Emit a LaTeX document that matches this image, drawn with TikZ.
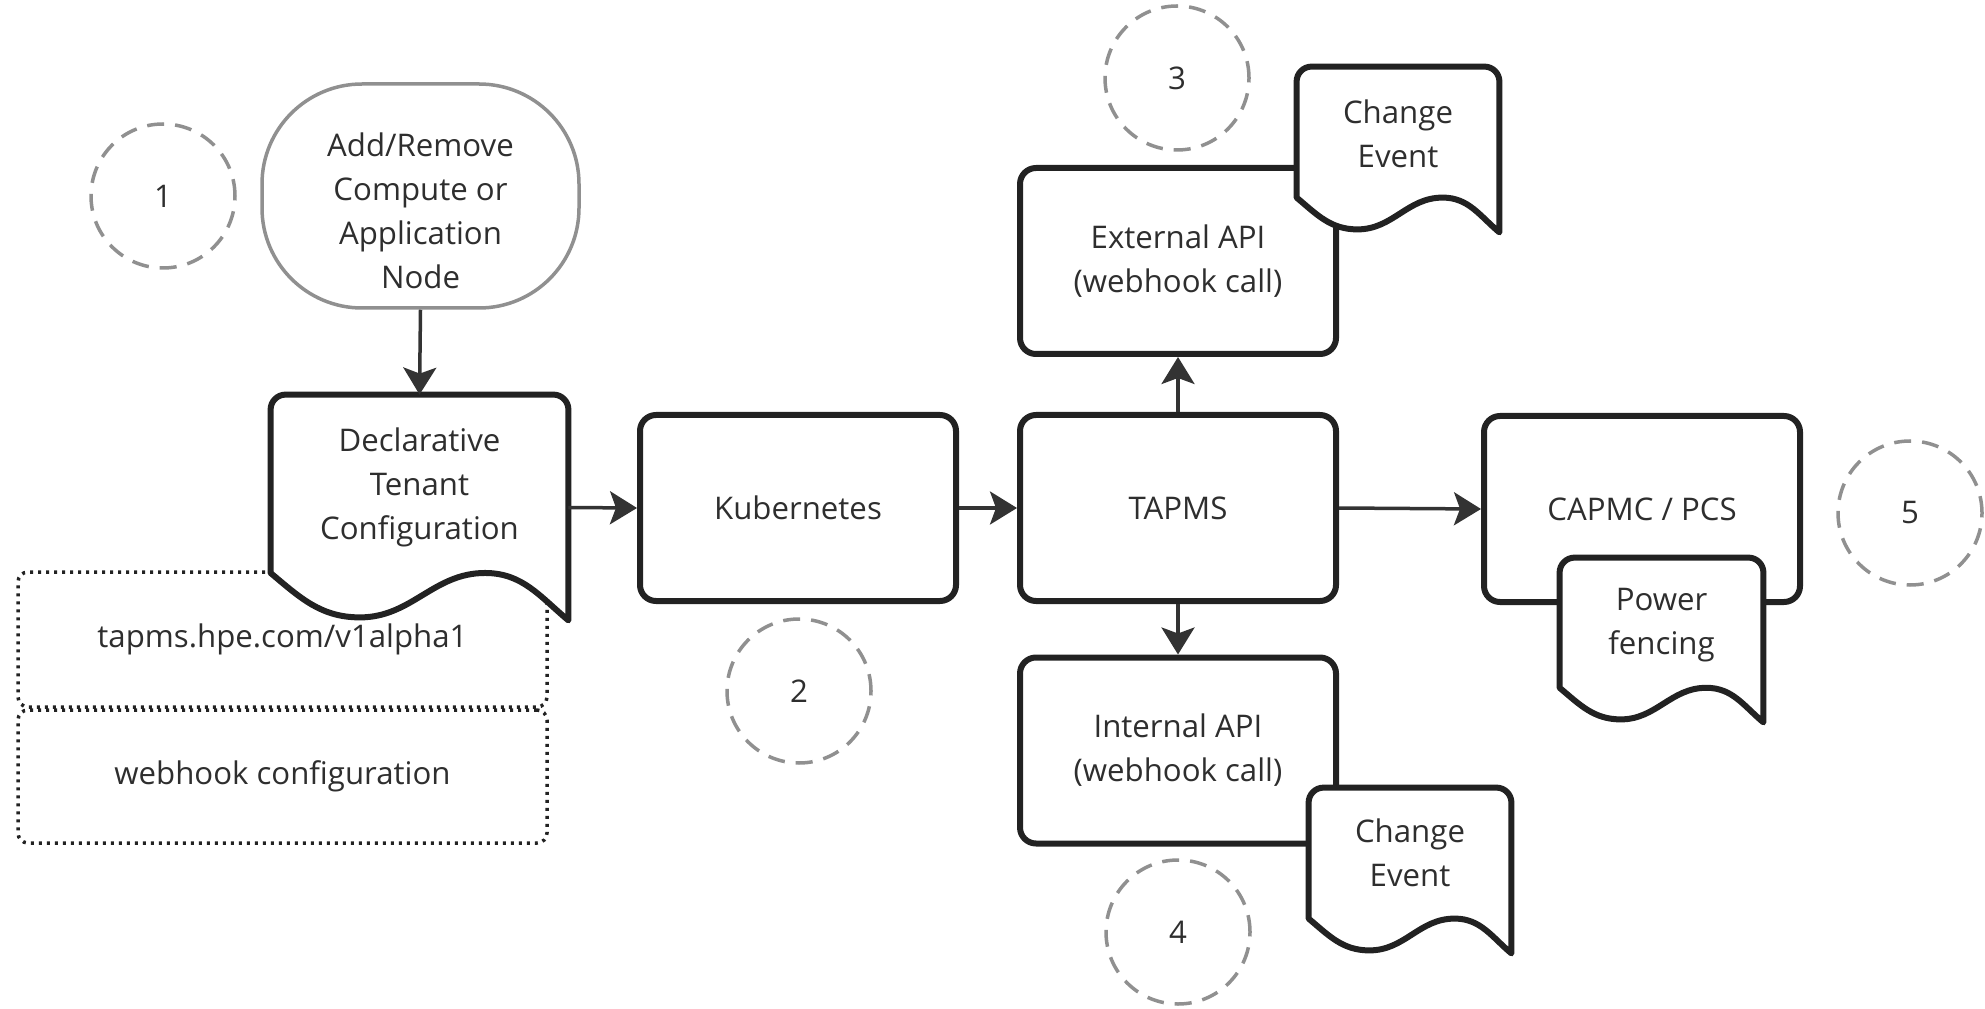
\documentclass[tikz,border=0pt]{standalone}
\usepackage{fontspec}
\setmainfont{Open Sans}
\usepackage{tikz}
\usetikzlibrary{arrows.meta,calc}

\definecolor{boxline}{HTML}{222222}
\definecolor{arrowline}{HTML}{333333}
\definecolor{stepgray}{HTML}{909090}
\definecolor{textgray}{HTML}{2E2E2E}

% document shape with a wavy bottom, drawn on a frame node
\newcommand{\wavedoc}[1]{%
  \coordinate (#1 lb) at ($(#1.north west)!0.79!(#1.south west)$);
  \coordinate (#1 dip) at ($(#1.south west)!0.3!(#1.south east)$);
  \coordinate (#1 top) at ($(#1.south west)!0.72!(#1.south east)$);
  \draw[doc line] (#1 lb) -- ([yshift=-7.5pt]#1.north west)
    arc[start angle=180, end angle=90, radius=7.5pt] -- ([xshift=-7.5pt]#1.north east)
    arc[start angle=90, end angle=0, radius=7.5pt] -- (#1.south east)
    to[out=140, in=0] (#1 top |- #1 lb)
    to[out=180, in=0] ([yshift=1.5pt]#1 dip)
    to[out=180, in=-40] (#1 lb) -- cycle;
}

\begin{document}
\begin{tikzpicture}[x=0.5pt, y=0.5pt, font=\fontsize{15.6pt}{22pt}\selectfont]
\tikzset{
	process box/.style = {draw=boxline, line width=3pt, rounded corners=8pt, fill=white,
		minimum width=158pt, minimum height=93pt, align=center, text=textgray},
	start box/.style = {draw=stepgray, line width=1.75pt, rounded corners=50pt,
		minimum width=158.5pt, minimum height=112pt},
	doc frame/.style = {inner sep=0},
	doc line/.style = {draw=boxline, line width=3pt, fill=white, line join=round},
	doc text/.style = {align=center, text=textgray, inner sep=0},
	number circle/.style = {circle, draw=stepgray, line width=1.75pt, dash pattern=on 8.5pt off 5.5pt,
		minimum size=72pt, inner sep=0, text=textgray},
	config box/.style = {draw=boxline, line width=1.75pt, dash pattern=on 1.5pt off 2.5pt,
		rounded corners=5pt, minimum width=264.5pt, align=center, text=textgray},
	flow/.style = {draw=arrowline, line width=1.75pt, -{Stealth[length=13.5pt, width=16.5pt, inset=3pt]}},
}
\useasboundingbox (0,0) rectangle (1985,1008);

% numbered steps
\node[number circle] (step 1) at (163,812) {1};
\node[number circle] (step 2) at (799,317) {2};
\node[number circle] (step 3) at (1177,930) {3};
\node[number circle] (step 4) at (1178,76) {4};
\node[number circle] (step 5) at (1910,495) {5};

% trigger
\node[start box] (start) at (420.5,812) {};
\node[doc text] (start text) at (420.5,797) {Add/Remove\\Compute or\\Application\\Node};

% configuration
\node[config box, minimum height=67.5pt] (api version) at (282.5,368.5) {tapms.hpe.com/v1alpha1};
\node[config box, minimum height=66.5pt] (webhook config) at (282.5,231.5) {webhook configuration};
\node[doc frame, minimum width=148.5pt, minimum height=112.5pt] (decl) at (419.5,500.5) {};
\wavedoc{decl}
\node[doc text] (decl text) at ([yshift=10.25pt]decl.center) {Declarative\\Tenant\\Configuration};

% services
\node[process box] (kube) at (798,500) {Kubernetes};
\node[process box] (tapms) at (1178,500) {TAPMS};
\node[process box] (ext api) at (1178,747) {External API\\(webhook call)};
\node[process box] (int api) at (1178,257.5) {Internal API\\(webhook call)};
\node[process box] (capmc) at (1642,499) {CAPMC / PCS};

% events
\node[doc frame, minimum width=101pt, minimum height=82.5pt] (ext event) at (1398,858.5) {};
\wavedoc{ext event}
\node[doc text] (ext event text) at ([yshift=8pt]ext event.center) {Change\\Event};
\node[doc frame, minimum width=101pt, minimum height=82.5pt] (int event) at (1410,137.5) {};
\wavedoc{int event}
\node[doc text] (int event text) at ([yshift=9pt]int event.center) {Change\\Event};
\node[doc frame, minimum width=101.5pt, minimum height=82pt] (fencing) at (1661.5,368) {};
\wavedoc{fencing}
\node[doc text] (fencing text) at ([yshift=7.5pt]fencing.center) {Power\\fencing};

% connectors
\draw[flow] (start.south) -- (decl.north);
\draw[flow] (decl.east) -- (kube.west);
\draw[flow] (kube.east) -- (tapms.west);
\draw[flow] (tapms.north) -- (ext api.south);
\draw[flow] (tapms.south) -- (int api.north);
\draw[flow] (tapms.east) -- (capmc.west);

\end{tikzpicture}
\end{document}
